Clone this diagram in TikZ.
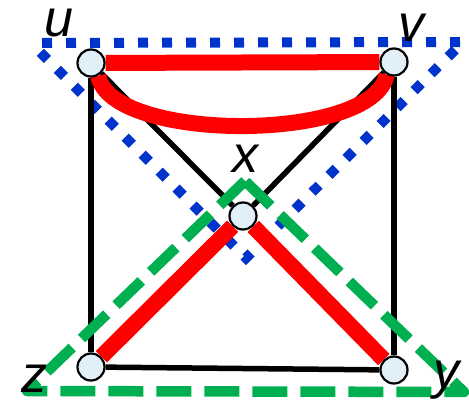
\documentclass[tikz,border=0pt]{standalone}
\usepackage{fontspec}
\setmainfont{Liberation Sans}
\definecolor{tblue}{HTML}{0033CC}
\definecolor{tgreen}{HTML}{00B050}
\definecolor{tred}{HTML}{FF0000}
\definecolor{nodefill}{HTML}{E1EFF8}
\pgfdeclarelayer{bg}
\pgfsetlayers{bg,main}
\begin{document}
\begin{tikzpicture}[x=1pt,y=-1pt,
  vert/.style={circle,draw=black,line width=2.2pt,fill=nodefill,minimum size=27pt,inner sep=0pt},
  blackedge/.style={line width=5.5pt,black},
  rededge/.style={line width=16pt,tred},
  bluetri/.style={line width=10pt,tblue,dash pattern=on 10pt off 14pt,dash phase=13pt},
  greentri/.style={line width=10.5pt,tgreen,dash pattern=on 35pt off 13pt,dash phase=0pt,line join=round},
  lab/.style={font=\fontsize{52}{52}\selectfont\itshape,inner sep=0pt,anchor=base}]
\useasboundingbox (0,0) rectangle (469,403);
% vertices
\node[vert] (u) at (91,63) {};
\node[vert] (v) at (394,62) {};
\node[vert] (x) at (243,216) {};
\node[vert] (z) at (91,367) {};
\node[vert] (y) at (394,370) {};
% labels
\node[lab] (lu) at (59,37) {u};
\node[lab] (lv) at (411,42) {v};
\node[lab] (lx) at (245,173) {x};
\node[lab] (lz) at (34,393) {z};
\node[lab] (ly) at (446,389) {y};
% triangle corners
\coordinate (b1) at (31,43);
\coordinate (b2) at (463,42);
\coordinate (b3) at (246,258);
\coordinate (g1) at (27,391);
\coordinate (g2) at (464,392);
\coordinate (g3) at (245,181);
\coordinate (c1) at (110,143);
\coordinate (c2) at (374,143);
\begin{pgfonlayer}{bg}
\draw[bluetri] (b1) -- (b2) -- (b3) -- cycle;
\draw[blackedge] (u) -- (z);
\draw[blackedge] (v) -- (y);
\draw[blackedge] (z) -- (y);
\draw[blackedge] (u) -- (x);
\draw[blackedge] (v) -- (x);
\draw[greentri] (g3) -- (g1) -- (g2) -- cycle;
\draw[rededge] (u) -- (v);
\draw[rededge] (u.300) .. controls (c1) and (c2) .. (v.240);
\draw[rededge] (x) -- (z);
\draw[rededge] (x) -- (y);
\end{pgfonlayer}
\end{tikzpicture}
\end{document}
